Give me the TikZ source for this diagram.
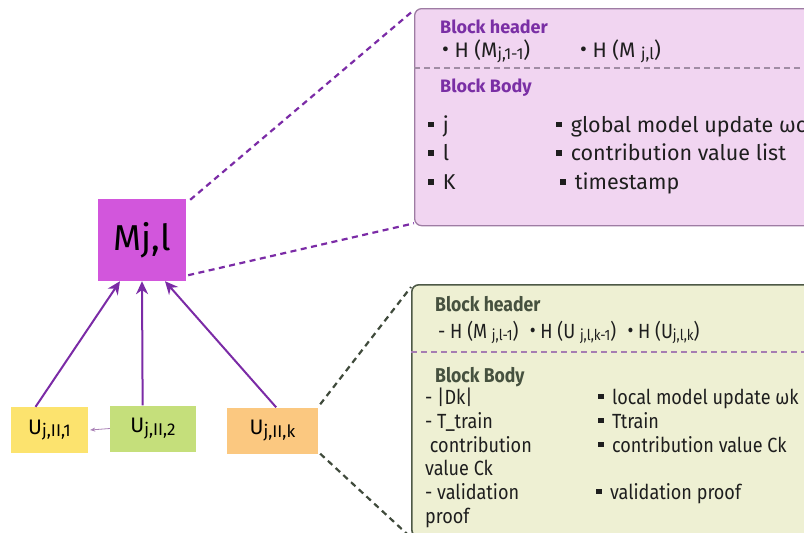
\documentclass[tikz,border=0pt]{standalone}
\usepackage{fontspec}
\setmainfont{Fira Sans}
\newfontfamily\condf[FakeStretch=0.88]{Fira Sans}
\usetikzlibrary{arrows.meta,calc}
\definecolor{pfill}{HTML}{F1D5F1}
\definecolor{pborder}{HTML}{9E7CA3}
\definecolor{psep}{HTML}{A08CA4}
\definecolor{gfill}{HTML}{EEF0D3}
\definecolor{gborder}{HTML}{4D5946}
\definecolor{gsep}{HTML}{A67DB2}
\definecolor{mfill}{HTML}{D256DC}
\definecolor{arr}{HTML}{7B2BA6}
\definecolor{ptitle}{HTML}{7A2FA5}
\definecolor{gtitle}{HTML}{46513F}
\definecolor{gdash}{HTML}{3F4A3B}
\definecolor{u1fill}{HTML}{FCE36E}
\definecolor{u2fill}{HTML}{C5DF7B}
\definecolor{ukfill}{HTML}{FBC880}
\definecolor{small}{HTML}{A981B6}
\definecolor{txt}{HTML}{1E1E1E}
\newcommand\sq{\rule[0.22em]{0.26em}{0.26em}\hspace{0.42em}}
\newcommand\sbx[2]{\raisebox{-0.22ex}{\fontsize{#1}{#1}\selectfont #2}}
\begin{document}
\begin{tikzpicture}[x=1pt,y=-1pt,
  tx/.style={inner sep=0pt,anchor=base west,text=txt},
  ptx/.style={tx,font=\fontsize{21.5}{24}\selectfont},
  phx/.style={tx,font=\fontsize{21}{24}\selectfont},
  phd/.style={tx,font=\fontsize{18}{20}\selectfont\bfseries,text=ptitle},
  ghd/.style={tx,font=\fontsize{20}{22}\selectfont\condf\bfseries,text=gtitle},
  gtx/.style={tx,font=\fontsize{20.5}{22}\selectfont\condf},
  ubox/.style={draw=none,minimum height=46pt,inner sep=0pt,font=\fontsize{21}{22}\selectfont,text=black},
  conn/.style={draw=arr,line width=2pt,-{Stealth[length=13pt,width=12pt]}},
  pdash/.style={draw=arr,line width=2.2pt,dash pattern=on 6pt off 4.5pt},
  gdashl/.style={draw=gdash,line width=2.2pt,dash pattern=on 6pt off 4.5pt}]
\useasboundingbox (0,0) rectangle (804,533);
\clip (0,0) rectangle (804,533);
% big boxes
\node[draw=pborder,fill=pfill,line width=1.3pt,rounded corners=7pt,anchor=north west,
      minimum width=440pt,minimum height=217pt,inner sep=0pt] (pb) at (414,8) {};
\node[draw=gborder,fill=gfill,line width=1.6pt,rounded corners=7pt,anchor=north west,
      minimum width=440pt,minimum height=252pt,inner sep=0pt] (gb) at (411,284) {};
\coordinate (ps) at (414,68);
\coordinate (pe) at (804,68);
\draw[psep,line width=1.3pt,dash pattern=on 6pt off 4pt] (ps) -- (pe);
\coordinate (gs) at (411,352);
\coordinate (ge) at (804,352);
\draw[gsep,line width=1.3pt,dash pattern=on 6pt off 4pt] (gs) -- (ge);
% purple box text
\node[phd] (ph1) at (440,33.5) {Block header};
\node[phx] (ph2) at (442,57.5) {\raisebox{0.1ex}{\textbullet} H (M\sbx{16}{j,1-1})};
\node[phx] (ph3) at (580,57.5) {\raisebox{0.1ex}{\textbullet} H (M \sbx{16}{j,l})};
\node[phd] (pbb) at (440,92.5) {Block Body};
\node[ptx] (pl1) at (428,132) {\sq j};
\node[ptx] (pl2) at (428,160.5) {\sq l};
\node[ptx] (pl3) at (428,189.5) {\sq K};
\node[ptx] (pr1) at (556,132) {\sq global model update ωc};
\node[ptx] (pr2) at (556,160.5) {\sq contribution value list};
\node[ptx] (pr3) at (560,189.5) {\sq timestamp};
% green box text
\node[ghd] (gh1) at (435,311) {Block header};
\node[gtx] (gh2) at (438,338.5) {- H (M \sbx{15}{j,l-1})\hspace{0.55em}\raisebox{0.1ex}{\textbullet} H (U \sbx{15}{j,l,k-1})\hspace{0.55em}\raisebox{0.1ex}{\textbullet} H (U\sbx{15}{j,l,k})};
\node[ghd] (gbb) at (435,382) {Block Body};
\node[gtx] (gl1) at (425,404) {- |Dk|};
\node[gtx] (gl2) at (425,428) {- T\_train};
\node[gtx] (gl3) at (425,452) {\ contribution};
\node[gtx] (gl4) at (425,475.5) {value Ck};
\node[gtx] (gl5) at (425,499) {- validation};
\node[gtx] (gl6) at (425,523) {proof};
\node[gtx] (gr1) at (598,404) {\sq local model update ωk};
\node[gtx] (gr2) at (598,428) {\sq Ttrain};
\node[gtx] (gr3) at (598,452) {\sq contribution value Ck};
\node[gtx] (gr4) at (596,499) {\sq validation proof};
% M node
\node[fill=mfill,minimum width=88pt,minimum height=82pt,inner sep=0pt,
      font=\fontsize{36}{40}\selectfont,text=black] (m) at (142,240) {Mj,l};
% U nodes
\node[ubox,fill=u1fill,minimum width=77pt] (u1) at (49.5,430) {U\sbx{17}{j,II,1}};
\node[ubox,fill=u2fill,minimum width=86pt] (u2) at (153,428.5) {U\sbx{17}{j,II,2}};
\node[ubox,fill=ukfill,minimum width=91pt] (uk) at (272.5,430.5) {U\sbx{17}{j,II,k}};
% arrows
\draw[conn] ($(u1.north west)!0.32!(u1.north east)$) -- ($(m.south)+(-22,0)$);
\draw[conn] ($(u2.north west)!0.38!(u2.north east)$) -- (m.south);
\draw[conn] ($(uk.north west)!0.54!(uk.north east)$) -- ($(m.south)+(23,0)$);
\draw[draw=small,line width=0.8pt,-{Stealth[length=5pt,width=4pt]}] (u2.west) -- ($(u1.east)+(2,0)$);
% dashed connectors
\draw[pdash] ($(m.north east)+(4,1)$) -- ($(pb.north west)+(0,2)$);
\draw[pdash] ($(m.south east)+(2,-6)$) -- ($(pb.south west)+(0,-3)$);
\draw[gdashl] ($(uk.north east)+(2,-3)$) -- ($(gb.north west)+(0,3)$);
\draw[gdashl] ($(uk.south east)+(2,0)$) -- (gb.south west);
\end{tikzpicture}
\end{document}
